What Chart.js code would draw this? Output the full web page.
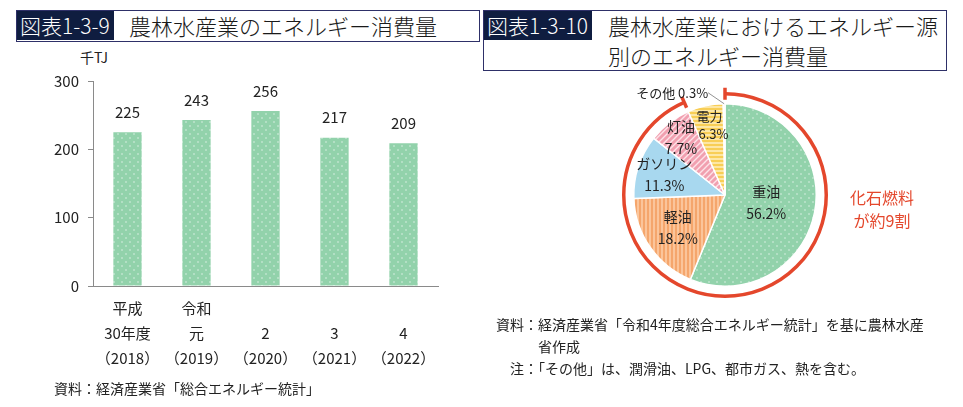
<!DOCTYPE html>
<html lang="ja">
<head>
<meta charset="utf-8">
<script src="https://cdn.jsdelivr.net/npm/chart.js@4.4.1/dist/chart.umd.min.js"></script>
<style>
body{margin:0;width:963px;height:407px;position:relative;background:#fff;font-family:"Noto Sans CJK JP",sans-serif;color:#222;overflow:hidden}
.box{position:absolute;border:1.5px solid #2e3068;box-sizing:border-box;background:#fff}
.tag{position:absolute;left:0;top:0;background:#0f1d40;color:#fff;font-size:21px;line-height:29px;padding:0 4px 0 3px;font-weight:300}
.ttl{position:absolute;font-size:22px;line-height:30px;color:#1a1a1a;white-space:nowrap;font-weight:300}
.txt{position:absolute;font-size:14px;line-height:20px;color:#222;white-space:nowrap}
.red{position:absolute;font-size:16px;line-height:23px;color:#e4472c;text-align:center;white-space:nowrap}
canvas{position:absolute}
</style>
</head>
<body>
<div class="box" style="left:16px;top:10px;width:464px;height:32px">
  <div class="tag">図表1-3-9</div>
  <div class="ttl" style="left:112px;top:-1px">農林水産業のエネルギー消費量</div>
</div>
<div class="box" style="left:483px;top:10px;width:464px;height:61px">
  <div class="tag">図表1-3-10</div>
  <div class="ttl" style="left:124px;top:-1px">農林水産業におけるエネルギー源</div>
  <div class="ttl" style="left:124px;top:29px">別のエネルギー消費量</div>
</div>
<div class="txt" style="left:80px;top:47px">千TJ</div>
<canvas id="barChart" width="480" height="407" style="left:0;top:0"></canvas>
<div class="txt" style="left:54px;top:378px">資料：経済産業省「総合エネルギー統計」</div>

<canvas id="pieChart" width="480" height="246" style="left:483px;top:72px"></canvas>
<div class="red" style="left:842px;top:186px;width:80px">化石燃料<br>が約9割</div>
<div class="txt" style="left:496px;top:314px">資料：経済産業省「令和4年度総合エネルギー統計」を基に農林水産</div>
<div class="txt" style="left:538px;top:336px">省作成</div>
<div class="txt" style="left:510px;top:358px">注：「その他」は、潤滑油、LPG、都市ガス、熱を含む。</div>

<script>
const years = [
	['平成', '30年度', '（2018）'],
	['令和', '元', '（2019）'],
	['', '2', '（2020）'],
	['', '3', '（2021）'],
	['', '4', '（2022）']
];
const consumption = [225, 243, 256, 217, 209];
const yTicks = [0, 100, 200, 300];

const sources = ['重油', '軽油', 'ガソリン', '灯油', '電力', 'その他'];
const shares = [56.2, 18.2, 11.3, 7.7, 6.3, 0.3];
const fossilCount = 4;

const FONT = '"Noto Sans CJK JP", sans-serif';

function makePattern(size, draw) {
	const c = document.createElement('canvas');
	c.width = size; c.height = size;
	const g = c.getContext('2d');
	draw(g, size);
	return c.getContext('2d').createPattern(c, 'repeat');
}

const greenDots = makePattern(8, function(g) {
	g.fillStyle = '#92d2ab'; g.fillRect(0, 0, 8, 8);
	g.fillStyle = 'rgba(255,255,255,0.75)';
	g.beginPath(); g.arc(2, 2, 0.75, 0, Math.PI * 2); g.fill();
	g.beginPath(); g.arc(6, 6, 0.75, 0, Math.PI * 2); g.fill();
});
const orangeStripes = makePattern(4, function(g) {
	g.fillStyle = '#fbc59b'; g.fillRect(0, 0, 4, 4);
	g.fillStyle = '#f5a66c'; g.fillRect(0, 0, 2, 4);
});
const pinkDiag = makePattern(6, function(g) {
	g.fillStyle = '#f1a0b0'; g.fillRect(0, 0, 6, 6);
	g.strokeStyle = '#fde3e8'; g.lineWidth = 1.4;
	g.beginPath();
	g.moveTo(-1, 7); g.lineTo(7, -1);
	g.moveTo(-4, 4); g.lineTo(4, -4);
	g.moveTo(2, 10); g.lineTo(10, 2);
	g.stroke();
});
const yellowStripes = makePattern(4, function(g) {
	g.fillStyle = '#fde7a6'; g.fillRect(0, 0, 4, 4);
	g.fillStyle = '#f8ce56'; g.fillRect(0, 0, 4, 2);
});

const barLabels = {
	id: 'barLabels',
	afterDatasetsDraw(chart) {
		const ctx = chart.ctx;
		const meta = chart.getDatasetMeta(0);
		ctx.save();
		ctx.font = '15px ' + FONT;
		ctx.fillStyle = '#222';
		ctx.textAlign = 'center';
		ctx.textBaseline = 'middle';
		meta.data.forEach(function(bar, i) {
			ctx.fillText(String(consumption[i]), bar.x, bar.y - 20);
		});
		ctx.restore();
	}
};

new Chart(document.getElementById('barChart').getContext('2d'), {
	type: 'bar',
	data: {
		labels: years,
		datasets: [{
			data: consumption,
			backgroundColor: greenDots,
			borderWidth: 0,
			categoryPercentage: 1,
			barPercentage: 0.41
		}]
	},
	options: {
		responsive: false,
		animation: false,
		layout: { padding: { top: 81, left: 0, right: 42, bottom: 0 } },
		plugins: { legend: { display: false }, tooltip: { enabled: false } },
		scales: {
			x: {
				afterFit: function(s) { s.height = 121; },
				grid: { display: false },
				border: { display: true, color: '#8a8a8a', width: 1 },
				ticks: {
					color: '#222',
					padding: 2,
					maxRotation: 0,
					autoSkip: false,
					font: { family: FONT, size: 15, lineHeight: 1.67 }
				}
			},
			y: {
				min: 0,
				max: 300,
				afterFit: function(s) { s.width = 93; },
				afterBuildTicks: function(s) { s.ticks = yTicks.map(v => ({ value: v })); },
				grid: { drawOnChartArea: false, color: '#8a8a8a', tickLength: 5 },
				border: { display: true, color: '#8a8a8a', width: 1 },
				ticks: { color: '#222', padding: 9, font: { family: FONT, size: 15 } }
			}
		}
	},
	plugins: [barLabels]
});

const pieLabelRadius = [0.46, 0.63, 0.7, 0.79, 0.79];

const pieExtras = {
	id: 'pieExtras',
	afterDatasetsDraw(chart) {
		const ctx = chart.ctx;
		const arcs = chart.getDatasetMeta(0).data;
		const cx = arcs[0].x, cy = arcs[0].y, R = arcs[0].outerRadius;

		// red bracket ring over the fossil fuel slices
		const a0 = arcs[0].startAngle, a1 = arcs[fossilCount - 1].endAngle;
		const rr = R + 10;
		ctx.save();
		ctx.strokeStyle = '#e4472c';
		ctx.lineWidth = 3.5;
		ctx.beginPath();
		ctx.arc(cx, cy, rr, a0, a1);
		ctx.stroke();
		[a0, a1].forEach(function(a) {
			ctx.beginPath();
			ctx.moveTo(cx + Math.cos(a) * (rr - 6), cy + Math.sin(a) * (rr - 6));
			ctx.lineTo(cx + Math.cos(a) * (rr + 6), cy + Math.sin(a) * (rr + 6));
			ctx.stroke();
		});
		ctx.restore();

		// slice labels
		ctx.save();
		ctx.fillStyle = '#222';
		ctx.textAlign = 'center';
		ctx.textBaseline = 'middle';
		for (let i = 0; i < pieLabelRadius.length; i++) {
			const a = (arcs[i].startAngle + arcs[i].endAngle) / 2;
			const r = R * pieLabelRadius[i];
			const px = cx + Math.cos(a) * r, py = cy + Math.sin(a) * r;
			const gap = i === 4 ? 9 : 11;
			ctx.font = (i === 4 ? '13px ' : '14px ') + FONT;
			ctx.fillText(sources[i], px, py - gap);
			ctx.fillText(shares[i].toFixed(1) + '%', px + (i === 4 ? 4 : 0), py + gap);
		}

		// その他 callout
		const last = arcs[arcs.length - 1];
		const am = (last.startAngle + last.endAngle) / 2;
		const ex = cx + Math.cos(am) * R, ey = cy + Math.sin(am) * R;
		ctx.strokeStyle = '#777';
		ctx.lineWidth = 0.8;
		ctx.beginPath();
		ctx.moveTo(ex, ey);
		ctx.lineTo(ex - 16, ey - 11);
		ctx.stroke();
		ctx.font = '13px ' + FONT;
		ctx.textAlign = 'right';
		ctx.fillText(sources[5] + ' ' + shares[5].toFixed(1) + '%', ex - 16, ey - 11);
		ctx.restore();
	}
};

new Chart(document.getElementById('pieChart').getContext('2d'), {
	type: 'pie',
	data: {
		labels: sources,
		datasets: [{
			data: shares,
			backgroundColor: [greenDots, orangeStripes, '#a8d8ef', pinkDiag, yellowStripes, '#f4f4f4'],
			borderColor: '#ffffff',
			borderWidth: 1.5
		}]
	},
	options: {
		responsive: false,
		animation: false,
		layout: { padding: { top: 31, left: 150, right: 146, bottom: 31 } },
		plugins: { legend: { display: false }, tooltip: { enabled: false } }
	},
	plugins: [pieExtras]
});
</script>
</body>
</html>
